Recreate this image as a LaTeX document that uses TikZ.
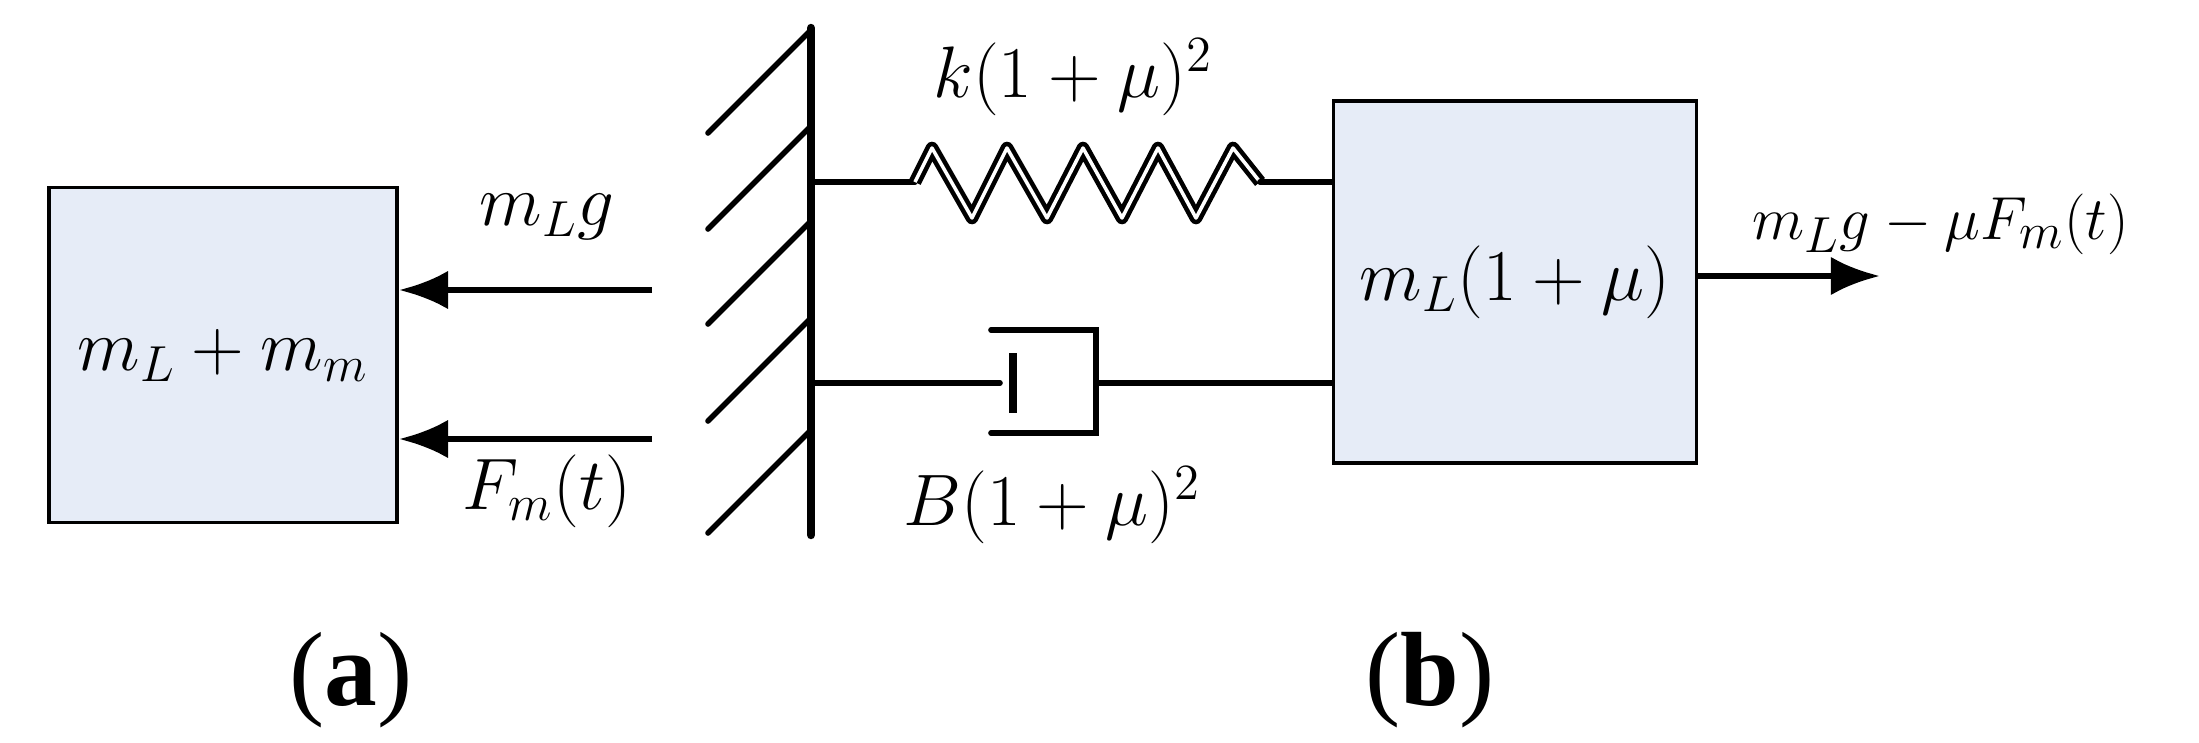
\documentclass[tikz,border=0pt]{standalone}
\usepackage{fontspec}
\setmainfont{Liberation Serif}
\usepackage{tikz}
\usetikzlibrary{positioning}
\usetikzlibrary{arrows.meta}
\definecolor{massfill}{HTML}{E6ECF7}
\begin{document}
\begin{tikzpicture}[x=0.01cm,y=-0.01cm,
massnode/.style={rectangle, draw=black, fill=massfill, line width=1pt, inner sep=0pt},
bar/.style={line width=1.6pt, line cap=round},
force/.style={line width=1.9pt, -{Latex[length=14pt,width=11pt]}},
lbl/.style={font=\fontsize{22}{26}\selectfont},
]
\useasboundingbox (0,0) rectangle (2199,742);
%Nodes
\node[massnode, minimum width=3.48cm, minimum height=3.35cm] (massa) at (223,355) {};
\node[lbl] at (massa.center) {$m_L+m_m$};
\node[massnode, minimum width=3.63cm, minimum height=3.62cm] (massb) at (1515,282) {};
\node[lbl] at (massb.center) {$m_L(1+\mu)$};
\coordinate (wtop) at (811,28);
\coordinate (wbot) at (811,535);
\coordinate (gstart) at (652,290);
\coordinate (fstart) at (652,439);
\coordinate (rend) at (1880,276);
\node[lbl] (glabel) at (547,217) {$m_Lg$};
\node[lbl] (flabel) at (547,491) {$F_m(t)$};
\node[lbl] (klabel) at (1073,77) {$k(1+\mu)^2$};
\node[lbl] (blabel) at (1052,505) {$B(1+\mu)^2$};
\node[font=\fontsize{19}{22}\selectfont, anchor=west] (rlabel) at (1740,224) {$m_Lg-\mu F_m(t)$};
\node[font=\fontsize{30}{34}\selectfont] (capa) at (351,680) {(\textbf{a})};
\node[font=\fontsize{30}{34}\selectfont] (capb) at (1430,680) {(\textbf{b})};

%Wall
\draw[line width=2.4pt, line cap=round] (wtop) -- (wbot);
\foreach \y in {133,229,324,421,533}
  \draw[bar] (708,\y) -- ++(103,-103);

%Spring
\draw[bar] (811,182) -- (915,182);
\draw[line width=1.3pt, double=white, double distance=1pt, line join=round]
  (915,182) -- (932,148) -- (972,218) -- (1007,148) -- (1047,218) -- (1083,148)
  -- (1122,218) -- (1158,148) -- (1196,218) -- (1233,148) -- (1260,182);
\draw[bar] (1260,182) -- (massb.west |- 0,182);

%Damper
\draw[bar] (811,383) -- (1000,383);
\draw[line width=2.4pt] (1013,353) -- (1013,413);
\draw[bar] (991,330) -- (1096,330) -- (1096,433) -- (991,433);
\draw[bar] (1096,383) -- (massb.west |- 0,383);

%Forces
\draw[force] (gstart) -- (massa.east |- gstart);
\draw[force] (fstart) -- (massa.east |- fstart);
\draw[force] (massb.east |- rend) -- (rend);
\end{tikzpicture}
\end{document}
